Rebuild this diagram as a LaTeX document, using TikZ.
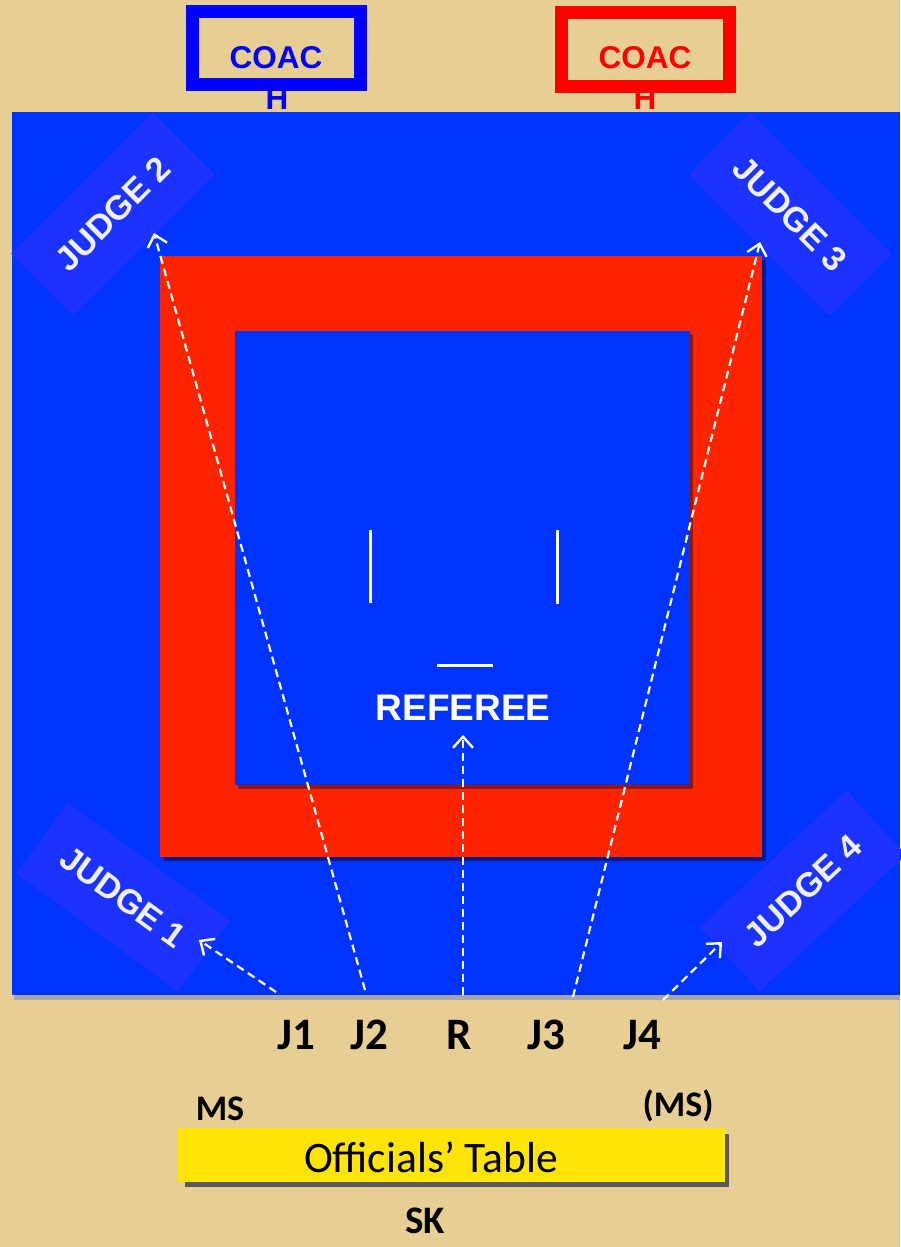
\documentclass[tikz,border=0pt]{standalone}
\usepackage{fontspec}
\setmainfont{Liberation Sans}
\newfontfamily\calfont{Carlito}
\usetikzlibrary{arrows.meta}
\definecolor{parch}{RGB}{231,206,148}
\definecolor{matblue}{RGB}{0,51,255}
\definecolor{judgeblue}{RGB}{28,50,255}
\definecolor{matred}{RGB}{255,36,0}
\definecolor{coachred}{RGB}{255,0,0}
\definecolor{coachblue}{RGB}{0,0,255}
\definecolor{tableyellow}{RGB}{255,228,10}
\begin{document}
\begin{tikzpicture}[x=1pt,y=-1pt,
  judge/.style={fill=judgeblue, minimum width=200pt, minimum height=88pt, inner sep=0pt,
    text=white!94!blue, font=\bfseries\fontsize{34}{34}\selectfont},
  coachbox/.style={line width=13pt},
  coachtxt/.style={font=\bfseries\fontsize{31.5}{31.5}\selectfont, inner sep=0pt},
  lab/.style={font=\calfont\bfseries\fontsize{45}{45}\selectfont, text=black, inner sep=0pt},
  small/.style={font=\calfont\bfseries\fontsize{36}{36}\selectfont, text=black, inner sep=0pt},
  look/.style={white, line width=2.2pt, dash pattern=on 8pt off 5pt,
    -{Straight Barb[length=11pt,width=20pt,line width=2.4pt]}},
  mark line/.style={white, line width=3pt}
]
\useasboundingbox (0,0) rectangle (900,1247);
\fill[parch] (0,0) rectangle (900,1247);

% coach boxes
\node[coachtxt, text=coachblue, anchor=base] (hb) at (277,109) {H};
\node[coachtxt, text=coachred, anchor=base] (hr) at (645,109) {H};
\draw[coachbox, coachblue] (192.5,11.5) rectangle (360,84.5);
\draw[coachbox, coachred] (561.5,12.5) rectangle (729,86);
\node[coachtxt, text=coachblue] (cb) at (276,58) {COAC};
\node[coachtxt, text=coachred] (cr) at (645,58) {COAC};

% mat
\fill[gray!70] (14,116) rectangle (900,1000);
\fill[matblue] (12,112) rectangle (900,995);
\fill[black!45!matblue] (164,260) rectangle (766,861);
\fill[matred] (160,256) rectangle (762,857);
\fill[black!40!matred] (238,334) rectangle (693,789);
\fill[matblue] (235,331) rectangle (690,785);

% starting marks
\draw[mark line] (370,530) -- (370,603);
\draw[mark line] (557,530) -- (557,604);
\draw[mark line] (437,665) -- (493,665);
\node[text=white, font=\bfseries\fontsize{37}{37}\selectfont, inner sep=0pt] (ref) at (463,708) {REFEREE};

% judges
\node[judge, rotate=45] (jd2) at (113,214) {JUDGE 2};
\node[judge, rotate=-45] (jd3) at (790,214) {JUDGE 3};
\node[judge, rotate=-36] (jd1) at (123,897) {JUDGE 1};
\node[judge, rotate=43] (jd4) at (803,891) {JUDGE 4};

% arrows
\coordinate (s1) at (276,992);
\coordinate (t1) at (199,940);
\coordinate (s2) at (365,990);
\coordinate (t2) at (154,233);
\coordinate (sr) at (463,995);
\coordinate (tr) at (463,735);
\coordinate (s3) at (573,997);
\coordinate (t3) at (760,242);
\coordinate (s4) at (663,1000);
\coordinate (t4) at (722,942);
\draw[look] (s1) -- (t1);
\draw[look] (s2) -- (t2);
\draw[look] (sr) -- (tr);
\draw[look] (s3) -- (t3);
\draw[look] (s4) -- (t4);

% bottom labels
\node[lab] (J1) at (296,1035) {J1};
\node[lab] (J2) at (369,1035) {J2};
\node[lab] (R) at (459,1035) {R};
\node[lab] (J3) at (546,1035) {J3};
\node[lab] (J4) at (642,1035) {J4};
\node[small] (ms) at (220,1109) {MS};
\node[small] (ms2) at (678,1106) {(MS)};

% officials' table
\fill[black!65] (185,1134) rectangle (729,1187);
\node[fill=tableyellow, minimum width=547pt, minimum height=54pt, inner sep=0pt] (table) at (451.5,1155) {};
\node[font=\calfont\fontsize{43.5}{43.5}\selectfont, inner sep=0pt] (tabletxt) at (431,1157) {Officials’ Table};
\node[font=\calfont\bfseries\fontsize{39}{39}\selectfont, inner sep=0pt] (sk) at (425,1221) {SK};
\end{tikzpicture}
\end{document}
